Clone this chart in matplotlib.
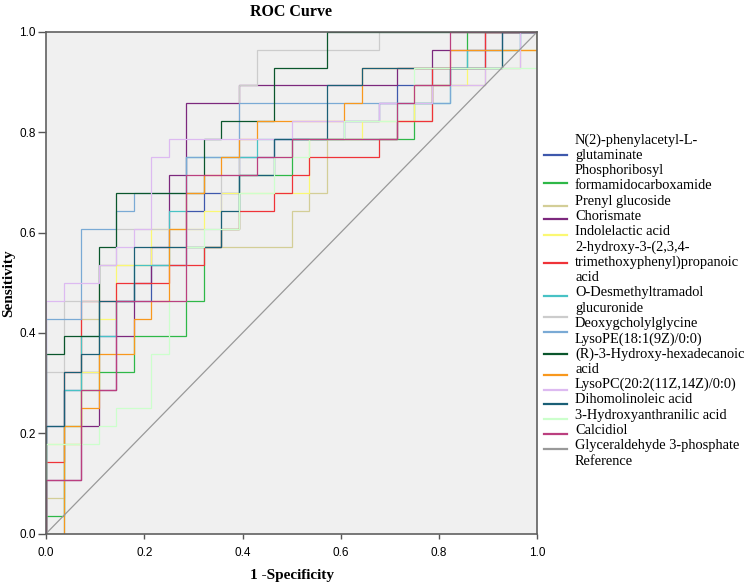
import matplotlib
matplotlib.use("Agg")
import matplotlib.pyplot as plt
from matplotlib.lines import Line2D
import numpy as np

# ROC curves as (false positives, true positives) corner points, 28 negatives / 28 positives
N = 28.0

blue = [(0,0),(0,6),(1,6),(1,8),(2,8),(2,9),(3,9),(3,11),(4,11),(4,13),(6,13),(6,15),(8,15),(8,18),(9,18),(9,19),
        (11,19),(11,21),(13,21),(13,22),(17,22),(17,23),(19,23),(19,24),(20,24),(20,25),(22,25),(22,26),(25,26),
        (25,27),(26,27),(26,28),(28,28)]
green = [(0,0),(0,1),(1,1),(1,6),(2,6),(2,8),(3,8),(3,9),(5,9),(5,11),(8,11),(8,13),(9,13),(9,16),(10,16),(10,17),
         (11,17),(11,20),(14,20),(14,22),(21,22),(21,24),(22,24),(22,25),(23,25),(23,26),(24,26),(24,28),(28,28)]
beige = [(0,0),(0,2),(1,2),(1,5),(2,5),(2,12),(3,12),(3,15),(7,15),(7,16),(14,16),(14,18),(15,18),(15,19),(16,19),
         (16,22),(20,22),(20,23),(22,23),(22,25),(25,25),(25,26),(27,26),(27,27),(28,27),(28,28)]
purple = [(0,0),(0,3),(2,3),(2,6),(3,6),(3,8),(4,8),(4,11),(5,11),(5,14),(6,14),(6,16),(7,16),(7,20),(8,20),(8,24),
          (11,24),(11,25),(20,25),(20,26),(22,26),(22,27),(25,27),(25,28),(28,28)]
yellow = [(0,0),(0,5),(2,5),(2,9),(3,9),(3,12),(4,12),(4,15),(6,15),(6,17),(9,17),(9,18),(10,18),(10,19),(15,19),
          (15,22),(18,22),(18,23),(21,23),(21,25),(24,25),(24,26),(26,26),(26,27),(28,27),(28,28)]
red = [(0,0),(0,4),(1,4),(1,9),(2,9),(2,13),(4,13),(4,14),(7,14),(7,15),(9,15),(9,16),(10,16),(10,17),(11,17),
       (11,18),(13,18),(13,19),(14,19),(14,20),(15,20),(15,21),(19,21),(19,22),(20,22),(20,23),(22,23),(22,26),
       (25,26),(25,28),(28,28)]
cyan = [(0,0),(1,0),(1,8),(2,8),(2,11),(4,11),(4,13),(5,13),(5,15),(7,15),(7,18),(8,18),(8,21),(12,21),(12,22),
        (20,22),(20,24),(23,24),(23,26),(24,26),(24,27),(27,27),(27,28),(28,28)]
lgray = [(0,0),(0,9),(1,9),(1,13),(3,13),(3,15),(4,15),(4,17),(10,17),(10,20),(11,20),(11,25),(12,25),(12,27),
         (19,27),(19,28),(28,28)]
lblue = [(0,0),(0,12),(2,12),(2,17),(4,17),(4,18),(5,18),(5,19),(8,19),(8,21),(11,21),(11,24),(23,24),(23,26),
         (26,26),(26,27),(27,27),(27,28),(28,28)]
dgreen = [(0,0),(0,10),(1,10),(1,11),(3,11),(3,16),(4,16),(4,19),(9,19),(9,22),(10,22),(10,23),(13,23),(13,26),
          (16,26),(16,28),(28,28)]
orange = [(0,0),(1,0),(1,6),(2,6),(2,7),(3,7),(3,10),(5,10),(5,12),(6,12),(6,13),(7,13),(7,17),(8,17),(8,19),
          (9,19),(9,20),(10,20),(10,21),(11,21),(11,22),(12,22),(12,23),(17,23),(17,24),(18,24),(18,26),(23,26),
          (23,27),(28,27),(28,28)]
lavender = [(0,0),(0,13),(1,13),(1,14),(3,14),(3,15),(4,15),(4,16),(5,16),(5,17),(6,17),(6,21),(7,21),(7,22),
            (14,22),(14,23),(19,23),(19,24),(22,24),(22,25),(25,25),(25,26),(27,26),(27,28),(28,28)]
dteal = [(0,0),(0,6),(1,6),(1,9),(2,9),(2,10),(3,10),(3,13),(5,13),(5,16),(10,16),(10,18),(11,18),(11,20),(13,20),
         (13,22),(16,22),(16,25),(18,25),(18,26),(26,26),(26,28),(28,28)]
pgreen = [(0,0),(0,5),(3,5),(3,6),(4,6),(4,7),(6,7),(6,10),(7,10),(7,13),(8,13),(8,16),(9,16),(9,17),(11,17),
          (11,19),(13,19),(13,21),(15,21),(15,22),(17,22),(17,23),(20,23),(20,24),(21,24),(21,26),(28,26),(28,28)]
magenta = [(0,0),(0,3),(2,3),(2,8),(4,8),(4,13),(8,13),(8,20),(12,20),(12,21),(14,21),(14,22),(20,22),(20,24),
           (21,24),(21,25),(23,25),(23,28),(28,28)]

names = ["N(2)-phenylacetyl-L-\nglutaminate", "Phosphoribosyl\nformamidocarboxamide", "Prenyl glucoside",
         "Chorismate", "Indolelactic acid", "2-hydroxy-3-(2,3,4-\ntrimethoxyphenyl)propanoic\nacid",
         "O-Desmethyltramadol\nglucuronide", "Deoxygcholylglycine", "LysoPE(18:1(9Z)/0:0)",
         "(R)-3-Hydroxy-hexadecanoic\nacid", "LysoPC(20:2(11Z,14Z)/0:0)", "Dihomolinoleic acid",
         "3-Hydroxyanthranilic acid", "Calcidiol", "Glyceraldehyde 3-phosphate", "Reference"]
curves = [blue, green, beige, purple, yellow, red, cyan, lgray, lblue, dgreen, orange, lavender, dteal, pgreen, magenta]
colors = ["#3E58AC", "#2EB848", "#D3CE97", "#7C287D", "#FBF873", "#EF3338", "#48C2C5", "#CCCCCC",
          "#7AAAD5", "#0A562C", "#F8981D", "#DDBAF1", "#1A5F76", "#CCFFCC", "#BB3F7F", "#999999"]

serif = "Liberation Serif"
sans = "Liberation Sans"

fig = plt.figure(figsize=(7.51, 5.86), dpi=100)
ax = fig.add_axes([46/751, 1-533.7/586, 491.3/751, 502/586])
ax.set_facecolor("#F0F0F0")

for pts, c in zip(curves, colors):
    p = np.array(pts) / N
    ax.plot(p[:, 0], p[:, 1], color=c, lw=0.9, solid_joinstyle="miter")
ax.plot([0, 1], [0, 1], color=colors[-1], lw=0.9)

ax.set_xlim(0, 1)
ax.set_ylim(0, 1)
ticks = [0.0, 0.2, 0.4, 0.6, 0.8, 1.0]
ax.set_xticks(ticks)
ax.set_yticks(ticks)
ax.set_xticklabels(["%.1f" % t for t in ticks], fontfamily=sans, fontsize=8.5)
ax.set_yticklabels(["%.1f" % t for t in ticks], fontfamily=sans, fontsize=8.5)
ax.tick_params(axis="x", length=3.6, pad=6, color="#555555", width=1)
ax.tick_params(axis="y", length=5.5, pad=2, color="#555555", width=1)
for s in ax.spines.values():
    s.set_color("#606060")
    s.set_linewidth(1.2)

fig.text(291.5/751, 1-12/586, "ROC Curve", ha="center", va="center", fontfamily=serif,
         fontweight="bold", fontsize=11.5)
fig.text(291.5/751, 1-576/586, "1 -Specificity", ha="center", va="center", fontfamily=serif,
         fontweight="bold", fontsize=11)
fig.text(9/751, 1-283/586, "Sensitivity", ha="center", va="center", rotation=90, fontfamily=serif,
         fontweight="bold", fontsize=11)

# legend: text lines and colour markers drift apart slightly, as in the original
lines = []
for n in names:
    lines.extend(n.split("\n"))
for k, ln in enumerate(lines):
    y = 140 + 15.29 * k
    fig.text(575/751, 1-y/586, ln, ha="left", va="center", fontfamily=serif, fontsize=10.4)

marker_y = [155, 182.7, 205.7, 219, 235, 263.3, 295.7, 317.3, 332.3, 353.7, 374.7, 389.7, 404.3, 419.3, 434, 449]
for y, c in zip(marker_y, colors):
    fig.add_artist(Line2D([544/751, 567/751], [1-y/586, 1-y/586], color=c, lw=1.6,
                          transform=fig.transFigure))

fig.savefig("out.png", dpi=100)
